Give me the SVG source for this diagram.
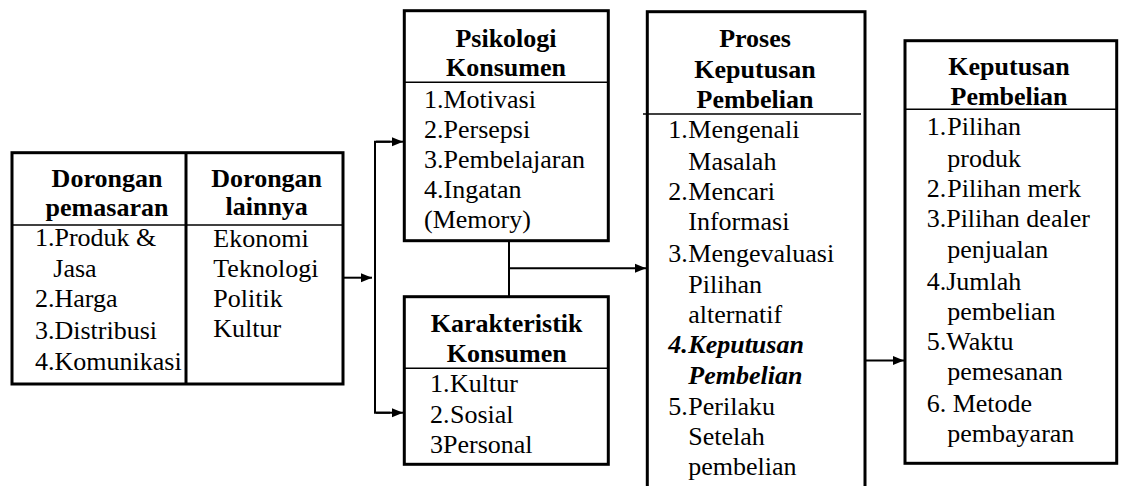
<svg xmlns="http://www.w3.org/2000/svg" width="1121" height="486" viewBox="0 0 1121 486">
<style>
.t{font-family:"Liberation Serif",serif;font-size:26px;fill:#000}
.h{font-weight:bold;text-anchor:middle}
.bi{font-weight:bold;font-style:italic}
.box{fill:#fff;stroke:#000;stroke-width:3}
.div{stroke:#000;stroke-width:1.6;fill:none}
.con{stroke:#000;stroke-width:2;fill:none}
</style>
<defs>
<marker id="ah" markerUnits="userSpaceOnUse" markerWidth="12" markerHeight="12" viewBox="0 0 12 12" refX="11" refY="6" orient="auto">
<path d="M0,1.5 L11,6 L0,10.5 Z" fill="#000"/>
</marker>
</defs>
<rect width="1121" height="486" fill="#fff"/>

<g id="connectors">
<line class="con" x1="344" y1="277.7" x2="372" y2="277.7" marker-end="url(#ah)"/>
<path class="con" d="M390,141.7 H375 V412.7 H390"/>
<line class="con" x1="376" y1="141.7" x2="403" y2="141.7" marker-end="url(#ah)"/>
<line class="con" x1="376" y1="412.7" x2="403" y2="412.7" marker-end="url(#ah)"/>
<line class="con" x1="509" y1="240" x2="509" y2="297"/>
<line class="con" x1="509" y1="268.3" x2="646" y2="268.3" marker-end="url(#ah)"/>
<line class="con" x1="866" y1="360.5" x2="904" y2="360.5" marker-end="url(#ah)"/>
</g>

<g id="dorongan">
<rect class="box" x="12" y="152.7" width="331" height="231.3"/>
<line class="div" x1="12" y1="225" x2="343" y2="225"/>
<line class="con" x1="186" y1="152.7" x2="186" y2="384" style="stroke-width:3"/>
<text class="t h" font-family="Liberation Serif" x="107" y="186.7">Dorongan</text>
<text class="t h" font-family="Liberation Serif" x="107" y="216">pemasaran</text>
<text class="t" font-family="Liberation Serif" x="35" y="246">1.Produk &amp;</text>
<text class="t" font-family="Liberation Serif" x="53.3" y="276.7">Jasa</text>
<text class="t" font-family="Liberation Serif" x="35" y="307.3">2.Harga</text>
<text class="t" font-family="Liberation Serif" x="35" y="339">3.Distribusi</text>
<text class="t" font-family="Liberation Serif" x="35" y="370">4.Komunikasi</text>
<text class="t h" font-family="Liberation Serif" x="266.7" y="186.7">Dorongan</text>
<text class="t h" font-family="Liberation Serif" x="266.7" y="215">lainnya</text>
<text class="t" font-family="Liberation Serif" x="213.3" y="246.7">Ekonomi</text>
<text class="t" font-family="Liberation Serif" x="213.3" y="276.7">Teknologi</text>
<text class="t" font-family="Liberation Serif" x="213.3" y="306.7">Politik</text>
<text class="t" font-family="Liberation Serif" x="213.3" y="336.7">Kultur</text>
</g>

<g id="psikologi">
<rect class="box" x="404.3" y="10.7" width="204" height="230"/>
<line class="div" x1="404.3" y1="82.3" x2="608.3" y2="82.3"/>
<text class="t h" font-family="Liberation Serif" x="506" y="46.7">Psikologi</text>
<text class="t h" font-family="Liberation Serif" x="506" y="76">Konsumen</text>
<text class="t" font-family="Liberation Serif" x="424" y="108.3">1.Motivasi</text>
<text class="t" font-family="Liberation Serif" x="424" y="138.3">2.Persepsi</text>
<text class="t" font-family="Liberation Serif" x="424" y="168.3">3.Pembelajaran</text>
<text class="t" font-family="Liberation Serif" x="424" y="198.3">4.Ingatan</text>
<text class="t" font-family="Liberation Serif" x="424" y="228.3">(Memory)</text>
</g>

<g id="karakteristik">
<rect class="box" x="404.3" y="296.7" width="204" height="167.6"/>
<line class="div" x1="404.3" y1="368.3" x2="608.3" y2="368.3"/>
<text class="t h" font-family="Liberation Serif" x="506.7" y="331.7">Karakteristik</text>
<text class="t h" font-family="Liberation Serif" x="506.7" y="361.7">Konsumen</text>
<text class="t" font-family="Liberation Serif" x="430" y="391.7">1.</text><text class="t" font-family="Liberation Serif" x="450" y="391.7">Kultur</text>
<text class="t" font-family="Liberation Serif" x="430" y="422.7">2.</text><text class="t" font-family="Liberation Serif" x="450" y="422.7">Sosial</text>
<text class="t" font-family="Liberation Serif" x="430" y="452.7">3Personal</text>
</g>

<g id="proses">
<rect class="box" x="647.3" y="11.7" width="217.7" height="490"/>
<line class="div" x1="643" y1="114" x2="861" y2="114"/>
<text class="t h" font-family="Liberation Serif" x="755" y="46.7">Proses</text>
<text class="t h" font-family="Liberation Serif" x="755" y="78.3">Keputusan</text>
<text class="t h" font-family="Liberation Serif" x="755" y="108.3">Pembelian</text>
<text class="t" font-family="Liberation Serif" x="668.3" y="138.3">1.</text><text class="t" font-family="Liberation Serif" x="688.3" y="138.3">Mengenali</text>
<text class="t" font-family="Liberation Serif" x="688.3" y="170">Masalah</text>
<text class="t" font-family="Liberation Serif" x="668.3" y="200">2.</text><text class="t" font-family="Liberation Serif" x="688.3" y="200">Mencari</text>
<text class="t" font-family="Liberation Serif" x="688.3" y="230">Informasi</text>
<text class="t" font-family="Liberation Serif" x="668.3" y="261.7">3.</text><text class="t" font-family="Liberation Serif" x="688.3" y="261.7">Mengevaluasi</text>
<text class="t" font-family="Liberation Serif" x="688.3" y="292.7">Pilihan</text>
<text class="t" font-family="Liberation Serif" x="688.3" y="322.7">alternatif</text>
<text class="t bi" font-family="Liberation Serif" x="668.3" y="353.3">4.</text><text class="t bi" font-family="Liberation Serif" x="688.3" y="353.3">Keputusan</text>
<text class="t bi" font-family="Liberation Serif" x="688.3" y="384">Pembelian</text>
<text class="t" font-family="Liberation Serif" x="668.3" y="415">5.</text><text class="t" font-family="Liberation Serif" x="688.3" y="415">Perilaku</text>
<text class="t" font-family="Liberation Serif" x="688.3" y="445">Setelah</text>
<text class="t" font-family="Liberation Serif" x="688.3" y="475">pembelian</text>
</g>

<g id="keputusan">
<rect class="box" x="905" y="40.7" width="211.7" height="422.6"/>
<line class="div" x1="905" y1="109.3" x2="1116.7" y2="109.3"/>
<text class="t h" font-family="Liberation Serif" x="1009" y="75">Keputusan</text>
<text class="t h" font-family="Liberation Serif" x="1009" y="105">Pembelian</text>
<text class="t" font-family="Liberation Serif" x="926.7" y="135">1.</text><text class="t" font-family="Liberation Serif" x="947.3" y="135">Pilihan</text>
<text class="t" font-family="Liberation Serif" x="947.3" y="166.7">produk</text>
<text class="t" font-family="Liberation Serif" x="926.7" y="196.7">2.</text><text class="t" font-family="Liberation Serif" x="947.3" y="196.7">Pilihan merk</text>
<text class="t" font-family="Liberation Serif" x="926.7" y="226.7">3.Pilihan dealer</text>
<text class="t" font-family="Liberation Serif" x="947.3" y="258.3">penjualan</text>
<text class="t" font-family="Liberation Serif" x="926.7" y="290">4.Jumlah</text>
<text class="t" font-family="Liberation Serif" x="947.3" y="320">pembelian</text>
<text class="t" font-family="Liberation Serif" x="926.7" y="350">5.Waktu</text>
<text class="t" font-family="Liberation Serif" x="947.3" y="380">pemesanan</text>
<text class="t" font-family="Liberation Serif" x="926.7" y="411.7">6. Metode</text>
<text class="t" font-family="Liberation Serif" x="947.3" y="441.7">pembayaran</text>
</g>
</svg>
